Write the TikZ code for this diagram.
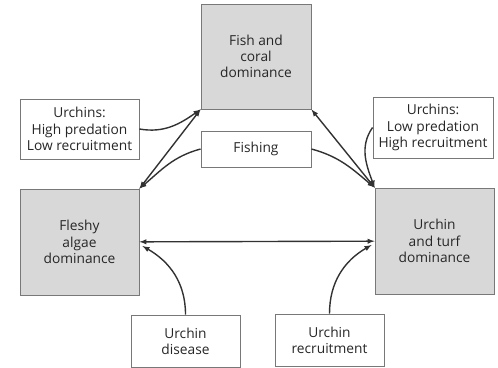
\documentclass[tikz,border=0pt]{standalone}
\usepackage{fontspec}
\setmainfont{Open Sans}
\usetikzlibrary{arrows}
\tikzset{>=latex}
\definecolor{boxline}{RGB}{120,120,120}
\definecolor{statefill}{RGB}{216,216,216}
\definecolor{arrowcol}{RGB}{50,50,50}
\tikzstyle{state}=[rectangle,draw=boxline,fill=statefill,line width=0.9bp,align=center,inner sep=0pt]
\tikzstyle{factor}=[rectangle,draw=boxline,fill=white,line width=0.9bp,align=center,inner sep=0pt]
\tikzstyle{link}=[draw=arrowcol,line width=1.4bp]

\begin{document}
\begin{tikzpicture}[x=1bp,y=-1bp,font=\fontsize{13.8}{16.3}\selectfont,text=black!85]
	\useasboundingbox (0,0) rectangle (498,367);
	\node[state, minimum width=110bp, minimum height=105bp] (fish) at (256, 56.5) {Fish and\\coral\\dominance};
	\node[state, minimum width=119bp, minimum height=106bp] (algae) at (79.5, 242) {Fleshy\\algae\\dominance};
	\node[state, minimum width=119bp, minimum height=106bp] (turf) at (434.5, 241) {Urchin\\and turf\\dominance};
	\node[factor, minimum width=119bp, minimum height=60bp] (urchhigh) at (79.5, 129) {Urchins:\\High predation\\Low recruitment};
	\node[factor, minimum width=120bp, minimum height=61bp] (urchlow) at (433, 127.5) {Urchins:\\Low predation\\High recruitment};
	\node[factor, minimum width=110bp, minimum height=36bp] (fishing) at (256, 149) {Fishing};
	\node[factor, minimum width=109bp, minimum height=52bp] (disease) at (185.5, 341) {Urchin\\disease};
	\node[factor, minimum width=109bp, minimum height=52bp] (recruit) at (329.5, 340) {Urchin\\recruitment};
	
	\draw[link,<->] (algae.north east) -- (fish.south west);
	\draw[link,<->] (fish.south east) -- (turf.north west);
	\draw[link,<->] (algae) -- (turf);
	\draw[link,->] (urchhigh.east) to[out=-10,in=215] (fish.south west);
	\draw[link,->] (urchlow.west) to[out=235,in=110] (turf.north west);
	\draw[link,->] (fishing.west) to[out=195,in=40] (algae.north east);
	\draw[link,->] (fishing.east) to[out=-15,in=140] (turf.north west);
	\draw[link,->] (disease.north) to[out=90,in=-30] ([xshift=3bp,yshift=-4bp]algae.east);
	\draw[link,->] (recruit.north) to[out=90,in=210] ([xshift=-3bp,yshift=-4bp]turf.west);
\end{tikzpicture}
\end{document}
